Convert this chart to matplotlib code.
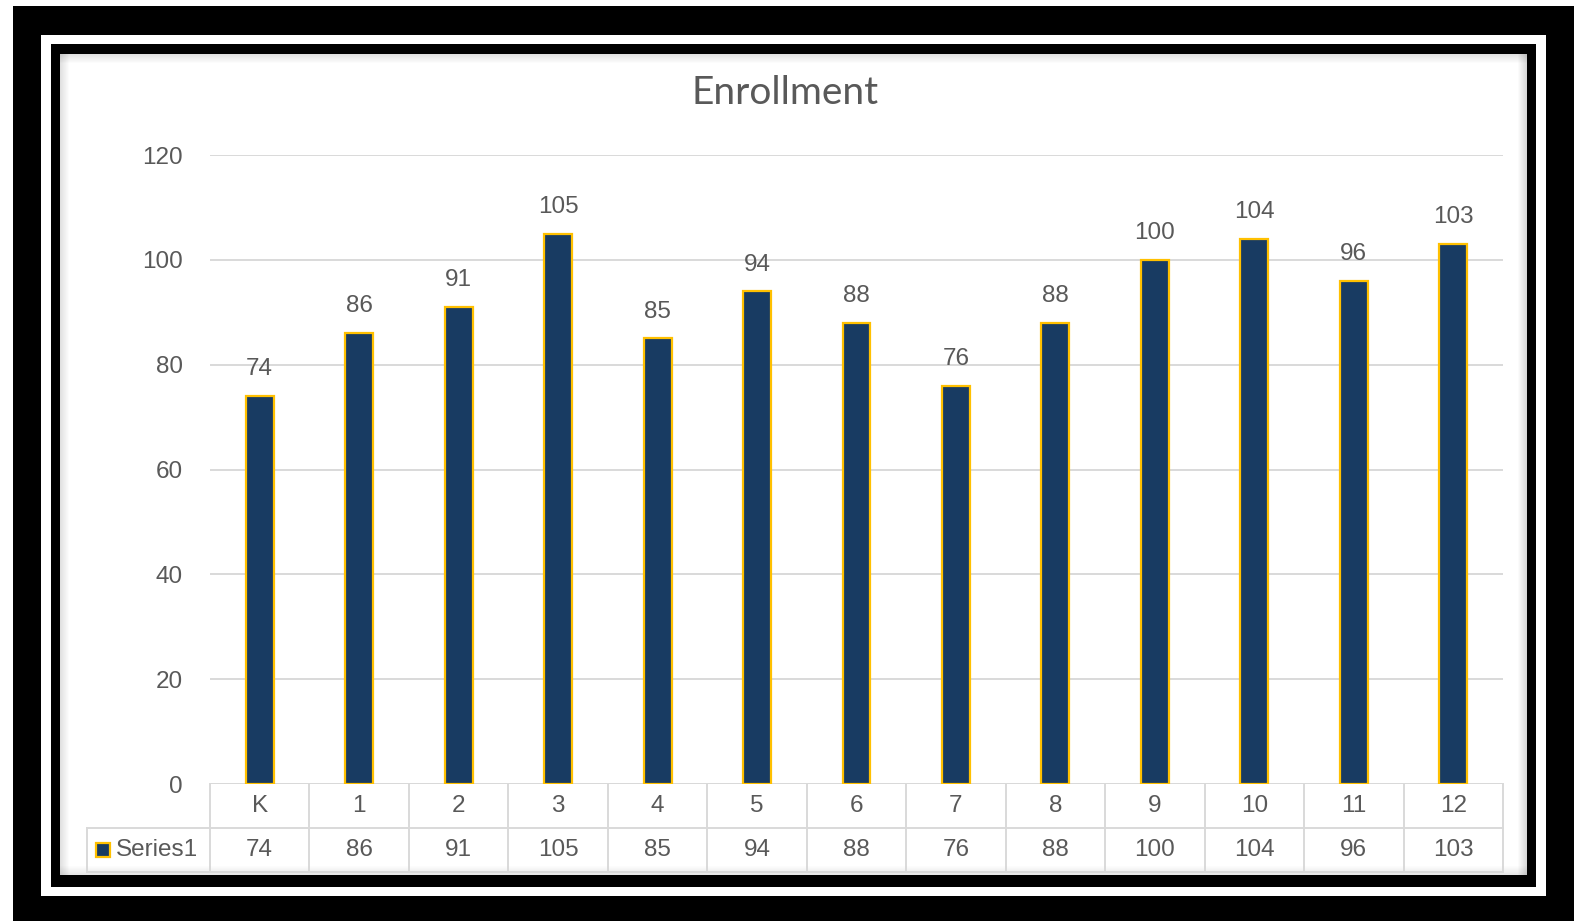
import numpy as np
import matplotlib
matplotlib.use('Agg')
import matplotlib.pyplot as plt
from matplotlib.patches import Rectangle
from matplotlib.transforms import blended_transform_factory

# datos
grades = ['K', '1', '2', '3', '4', '5', '6', '7', '8', '9', '10', '11', '12']
enrollment = [74, 86, 91, 105, 85, 94, 88, 76, 88, 100, 104, 96, 103]
series_name = 'Series1'
title = 'Enrollment'
yticks = [0, 20, 40, 60, 80, 100, 120]

W, H = 1587, 921
navy = '#183b62'
gold = '#ffc000'
gray_txt = '#595959'
grid_c = '#d9d9d9'
fs = 17.5
fnt = 'Liberation Sans'

fig = plt.figure(figsize=(W / 100, H / 100), dpi=100)
fig.patch.set_facecolor('white')


def px_rect(x0, y0, x1, y1, color, z=0, alpha=1.0):
    # rectangulo en pixeles (origen arriba a la izquierda)
    r = Rectangle((x0 / W, 1 - y1 / H), (x1 - x0) / W, (y1 - y0) / H,
                  transform=fig.transFigure, facecolor=color, edgecolor='none',
                  zorder=z, alpha=alpha)
    fig.patches.append(r)


# marcos
px_rect(13, 6, 1574, 921, 'black', z=0)
px_rect(41, 35, 1546, 896, 'white', z=1)
px_rect(51, 44, 1536, 887, 'black', z=2)
px_rect(60, 54, 1527, 875, 'white', z=3)

# sombra interior
for i in range(9):
    a = 0.12 * (1 - i / 9)
    px_rect(60 + i, 54, 61 + i, 875, 'black', z=4, alpha=a)
    px_rect(1526 - i, 54, 1527 - i, 875, 'black', z=4, alpha=a * 1.3)
    px_rect(60, 54 + i, 1527, 55 + i, 'black', z=4, alpha=a)
    px_rect(60, 874 - i, 1527, 875 - i, 'black', z=4, alpha=a * 0.8)

left, right, top, bottom = 210, 1503, 155, 784
ax = fig.add_axes([left / W, 1 - bottom / H, (right - left) / W, (bottom - top) / H])
ax.set_zorder(5)
ax.patch.set_alpha(0)

x = np.arange(len(grades))
ax.bar(x, enrollment, width=0.28, color=navy, edgecolor=gold, linewidth=1.6, zorder=3)
for xi, v in zip(x, enrollment):
    ax.text(xi, v + 3.0, str(v), ha='center', va='bottom', fontsize=fs,
            color=gray_txt, family=fnt)

ax.set_xlim(-0.5, len(grades) - 0.5)
ax.set_ylim(0, 120)
ax.set_yticks(yticks)
ax.set_yticklabels([str(t) for t in yticks], fontsize=fs, color=gray_txt, family=fnt)
ax.tick_params(axis='y', length=0, pad=19.5)
ax.set_xticks([])
ax.grid(axis='y', color=grid_c, linewidth=1.4, zorder=0)
for s in ax.spines.values():
    s.set_visible(False)
ax.axhline(0, color=grid_c, linewidth=1.4, zorder=2)

fig.text(785 / W, 1 - 93 / H, title, ha='center', va='center',
         fontsize=28, color=gray_txt, family='Lato')

# tabla de datos
tr = blended_transform_factory(ax.transData, ax.transAxes)
rh = 44 / (bottom - top)
lw = 1.4
for b in np.arange(-0.5, len(grades), 1.0):
    ax.plot([b, b], [0, -2 * rh], color=grid_c, lw=lw, transform=tr, clip_on=False)
cw = (right - left) / len(grades)
x_series = -0.5 - (left - 87) / cw
ax.plot([x_series, len(grades) - 0.5], [-rh, -rh], color=grid_c, lw=lw,
        transform=tr, clip_on=False)
ax.plot([x_series, len(grades) - 0.5], [-2 * rh, -2 * rh], color=grid_c, lw=lw,
        transform=tr, clip_on=False)
ax.plot([x_series, x_series], [-rh, -2 * rh], color=grid_c, lw=lw,
        transform=tr, clip_on=False)
for xi, g, v in zip(x, grades, enrollment):
    ax.text(xi, -0.5 * rh, g, ha='center', va='center', fontsize=fs,
            color=gray_txt, family=fnt, transform=tr)
    ax.text(xi, -1.5 * rh, str(v), ha='center', va='center', fontsize=fs,
            color=gray_txt, family=fnt, transform=tr)

# leyenda en la tabla
ph = bottom - top
kx = x_series + 9 / cw
key = Rectangle((kx, -1.5 * rh - 7 / ph), 14 / cw, 14 / ph,
                transform=tr, facecolor=navy, edgecolor=gold, linewidth=1.6,
                clip_on=False)
ax.add_patch(key)
ax.text(kx + 20 / cw, -1.5 * rh, series_name, ha='left', va='center', fontsize=fs,
        color=gray_txt, family=fnt, transform=tr)

fig.savefig('out.png', dpi=100)
